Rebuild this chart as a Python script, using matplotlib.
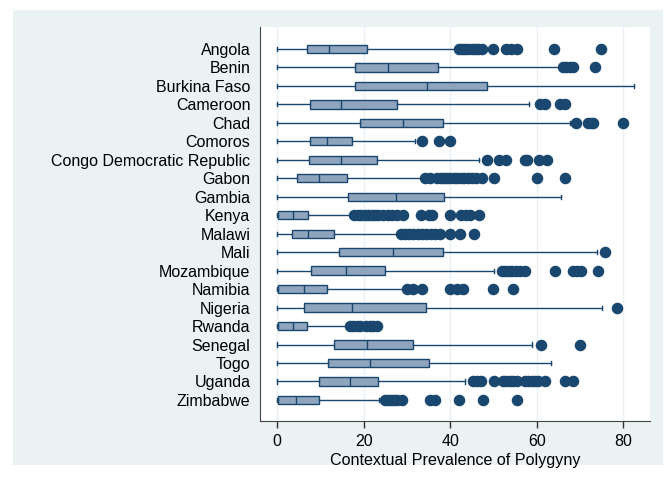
import matplotlib.pyplot as plt
from matplotlib.patches import Rectangle

plt.rcParams['font.family'] = ['Liberation Sans', 'DejaVu Sans']

countries = ["Angola", "Benin", "Burkina Faso", "Cameroon", "Chad", "Comoros",
             "Congo Democratic Republic", "Gabon", "Gambia", "Kenya", "Malawi",
             "Mali", "Mozambique", "Namibia", "Nigeria", "Rwanda", "Senegal",
             "Togo", "Uganda", "Zimbabwe"]

# box stats
whislo = [0, 0, 0, 0, 0, 0, 0, 0, 0, 0, 0, 0, 0, 0, 0, 0, 0, 0, 0, 0]
q1 = [6.8, 18.0, 18.0, 7.6, 19.1, 7.6, 7.3, 4.6, 16.3, 0.2, 3.4, 14.2, 7.8, 0.2, 6.2, 0.2, 13.1, 11.7, 9.7, 0.2]
med = [12.0, 25.6, 34.7, 14.8, 29.1, 11.6, 14.7, 9.6, 27.5, 3.6, 7.2, 26.8, 15.8, 6.1, 17.2, 3.6, 20.8, 21.5, 16.8, 4.3]
q3 = [20.7, 37.1, 48.6, 27.7, 38.3, 17.3, 23.0, 16.2, 38.6, 7.0, 13.1, 38.4, 24.9, 11.6, 34.4, 6.8, 31.5, 35.0, 23.4, 9.6]
whishi = [41.5, 65.5, 82.5, 58.3, 67.7, 31.9, 46.7, 33.8, 65.7, 17.5, 28.2, 74.0, 50.1, 29.5, 75.0, 16.5, 59.0, 63.3, 43.4, 23.6]

fliers = [
    [42.1, 42.8, 43.5, 44.2, 45.0, 45.8, 46.5, 47.3, 50.0, 53.0, 54.0, 55.4, 64.1, 74.9],
    [66.1, 66.8, 67.6, 68.4, 73.5],
    [],
    [60.7, 61.9, 65.4, 66.5],
    [69.2, 71.9, 72.5, 73.1, 80.0],
    [33.4, 37.5, 39.9],
    [48.6, 51.3, 53.0, 57.3, 57.8, 60.6, 62.4],
    [34.2, 35.4, 37.0, 37.8, 38.5, 39.2, 40.0, 40.8, 41.6, 42.4, 43.2, 44.0, 45.0, 46.0, 47.3, 50.1, 60.0, 66.5],
    [],
    [17.8, 18.6, 19.4, 20.2, 21.0, 21.8, 22.6, 23.4, 24.4, 25.5, 26.5, 27.8, 29.1, 33.2, 35.0, 35.7, 39.9, 42.6, 43.6, 44.6, 46.6],
    [28.5, 29.5, 30.5, 31.5, 32.5, 33.5, 34.5, 35.5, 36.5, 37.6, 39.9, 42.2, 45.5],
    [75.8],
    [51.9, 52.7, 53.5, 54.3, 55.2, 56.2, 57.3, 64.2, 68.4, 69.3, 70.2, 74.2],
    [29.9, 31.3, 33.4, 39.9, 41.5, 43.0, 50.0, 54.6],
    [78.6],
    [16.8, 17.6, 18.4, 19.2, 20.5, 21.5, 22.2, 23.0],
    [60.9, 70.0],
    [],
    [45.3, 46.2, 47.0, 50.1, 52.3, 53.0, 53.8, 54.6, 55.4, 57.3, 58.0, 58.8, 59.5, 60.3, 61.9, 66.5, 68.4],
    [24.9, 25.6, 26.3, 27.0, 27.8, 28.8, 35.3, 36.5, 42.1, 47.6, 55.5],
]

xticks = [0, 20, 40, 60, 80]

navy = "#1a476f"
boxfill = "#8fa5bd"
bg = "#eaf2f3"

stats = []
for i in range(len(countries)):
    stats.append({"label": countries[i], "whislo": whislo[i], "q1": q1[i], "med": med[i],
                  "q3": q3[i], "whishi": whishi[i], "fliers": fliers[i]})

fig = plt.figure(figsize=(6.7, 4.8), dpi=100)
fig.patch.set_facecolor("white")
fig.patches.append(Rectangle((13 / 670, 1 - 465 / 480), 650 / 670, 455 / 480,
                             transform=fig.transFigure, facecolor=bg, edgecolor="none", zorder=-5))

ax = fig.add_axes([260 / 670, 1 - 421 / 480, 390 / 670, 394 / 480])
ax.set_zorder(1)
ax.set_facecolor("white")

pos = list(range(len(countries), 0, -1))
ax.bxp(stats, positions=pos, vert=False, widths=0.45, capwidths=0.22, patch_artist=True,
       boxprops=dict(facecolor=boxfill, edgecolor=navy, linewidth=1.0),
       medianprops=dict(color=navy, linewidth=1.0),
       whiskerprops=dict(color=navy, linewidth=1.0),
       capprops=dict(color=navy, linewidth=1.0),
       flierprops=dict(marker="o", markerfacecolor=navy, markeredgecolor=navy, markersize=7.3))

ax.set_xlim(-4, 86.2)
ax.set_ylim(0 - 0.14, len(countries) + 1.19)
ax.set_xticks(xticks)
ax.xaxis.grid(True, color=bg, linewidth=1.0)
ax.set_axisbelow(True)
ax.tick_params(axis="y", length=0, pad=7, labelsize=11.5)
ax.tick_params(axis="x", length=5, width=1, color="#333333", labelsize=11.5, pad=4)
ax.set_xlabel("Contextual Prevalence of Polygyny", fontsize=11.6, labelpad=3)
ax.spines["top"].set_visible(False)
ax.spines["right"].set_visible(False)
ax.spines["left"].set_color("#444444")
ax.spines["bottom"].set_color("#444444")

fig.savefig("out.png", dpi=100)
